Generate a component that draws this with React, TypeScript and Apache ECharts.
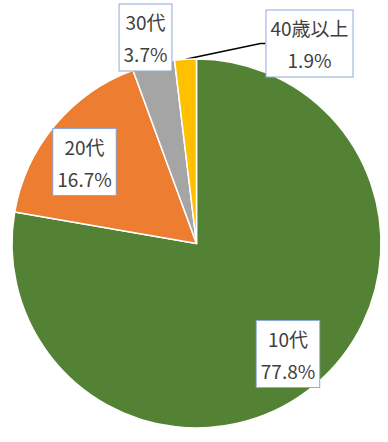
import React, { useEffect, useRef } from "react";
import * as echarts from "echarts";

const categories = ["10代", "20代", "30代", "40歳以上"];
const values = [77.8, 16.7, 3.7, 1.9];
const colors = ["#548235", "#ED7D31", "#A5A5A5", "#FFC000"];
// label box centres (px)
const labelPos: [number, number][] = [
  [288, 354],
  [84.5, 162],
  [145.5, 37.5],
  [309.5, 43.5],
];

export default function App() {
  const ref = useRef<HTMLDivElement>(null);
  useEffect(() => {
    if (!ref.current) return;
    const chart = echarts.init(ref.current, null, { renderer: "svg" });
    chart.setOption({
      animation: false,
      backgroundColor: "#ffffff",
      series: [
        {
          type: "pie",
          center: [196.5, 243.5],
          radius: 184.5,
          startAngle: 90,
          clockwise: true,
          avoidLabelOverlap: false,
          itemStyle: { borderColor: "#ffffff", borderWidth: 1.5 },
          label: {
            show: true,
            position: "outside",
            formatter: (p: any) => `${p.name}\n${p.value}%`,
            fontFamily: "Noto Sans CJK JP",
            fontSize: 19,
            lineHeight: 32,
            color: "#404040",
            backgroundColor: "#ffffff",
            borderColor: "#8EA9DB",
            borderWidth: 1,
            padding: [1, 4],
            align: "center",
          },
          labelLine: { show: false },
          labelLayout: (params: any) => {
            const p = labelPos[params.dataIndex];
            return { x: p[0], y: p[1], align: "center", verticalAlign: "middle" };
          },
          data: categories.map((c, i) => ({
            name: c,
            value: values[i],
            itemStyle: { color: colors[i] },
            labelLine:
              i === 3
                ? { show: true, length: 5, length2: 5, lineStyle: { color: "#000", width: 1.5 } }
                : { show: false },
          })),
        },
      ],
    });
    return () => chart.dispose();
  }, []);
  return (
    <div
      ref={ref}
      style={{ position: "fixed", left: 0, top: 0, width: 388, height: 442 }}
    />
  );
}
